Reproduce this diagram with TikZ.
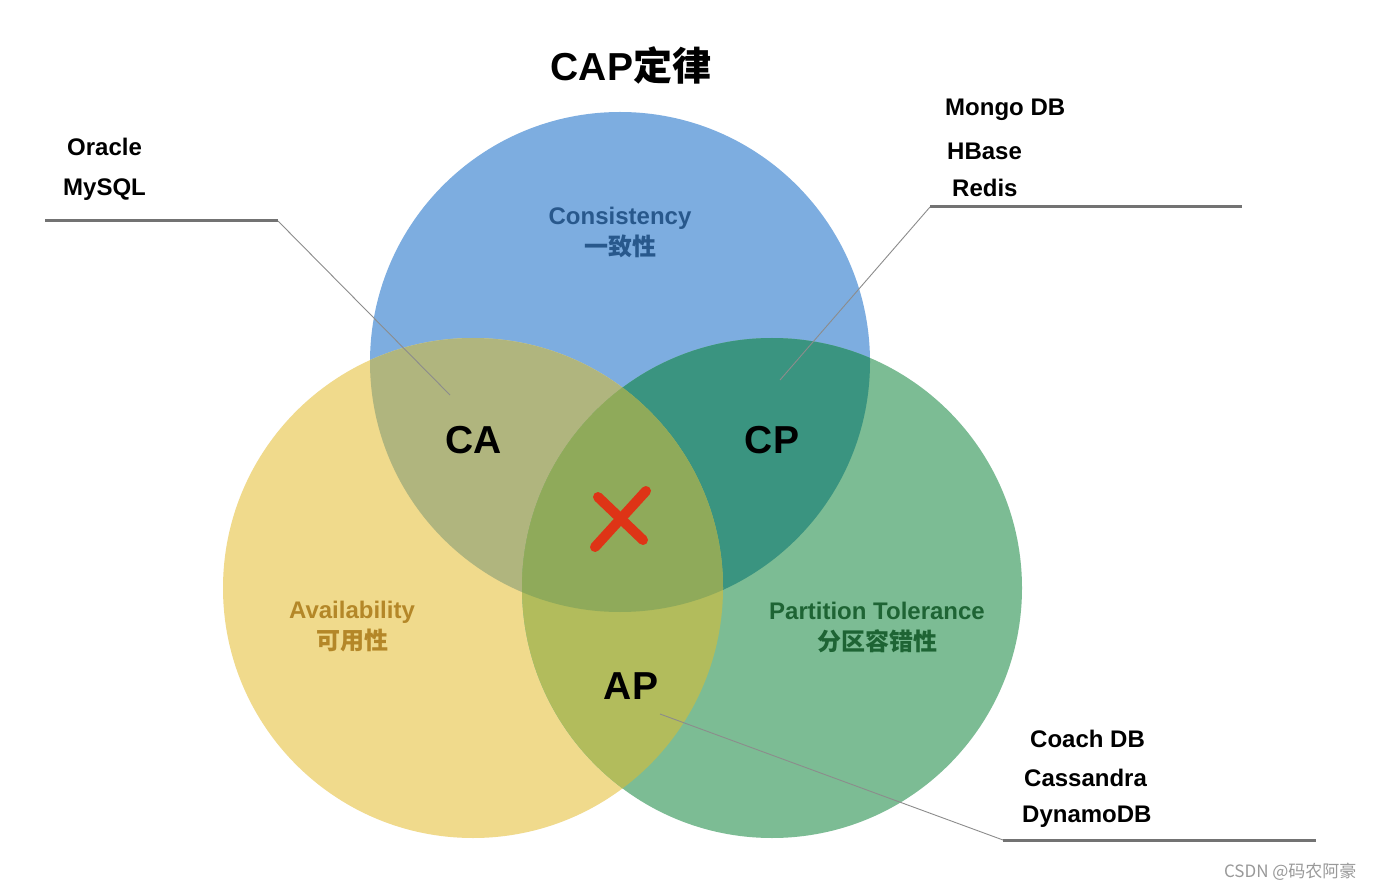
\documentclass[tikz,border=0pt]{standalone}
\usepackage{fontspec}
\setmainfont{Liberation Sans}
\newfontfamily\cjk{Noto Sans CJK SC}
\usepackage{xcolor}

\definecolor{consBlue}{RGB}{125,173,224}
\definecolor{availYellow}{RGB}{240,218,140}
\definecolor{partGreen}{RGB}{124,188,148}
\definecolor{caOlive}{RGB}{176,181,126}
\definecolor{cpTeal}{RGB}{58,148,128}
\definecolor{apLime}{RGB}{178,188,92}
\definecolor{capMid}{RGB}{143,170,90}
\definecolor{consText}{RGB}{40,88,140}
\definecolor{availText}{RGB}{180,135,40}
\definecolor{partText}{RGB}{30,100,52}
\definecolor{crossRed}{RGB}{222,52,22}

\tikzset{
  title/.style={font=\fontsize{39}{42}\selectfont\bfseries},
  dbname/.style={anchor=west, inner sep=0pt, font=\fontsize{24}{26}\selectfont\bfseries},
  setname/.style={font=\fontsize{39}{42}\selectfont\bfseries},
  propname/.style={align=center, font=\fontsize{24}{31}\selectfont\bfseries},
  underline/.style={draw=black!55, line width=3pt},
  leader/.style={draw=black!45, line width=0.9pt},
  cross/.style={draw=crossRed, line width=10pt, line cap=round},
  watermark/.style={text=black!40, font=\cjk\fontsize{17}{20}\selectfont},
}

\begin{document}
\begin{tikzpicture}[x=1pt,y=-1pt]
\useasboundingbox (0,0) rectangle (1374,890);
\fill[white] (0,0) rectangle (1374,890);

\coordinate (C) at (620,362);
\coordinate (A) at (473,588);
\coordinate (P) at (772,588);

% the three sets
\fill[consBlue] (C) circle (250pt);
\fill[availYellow] (A) circle (250pt);
\fill[partGreen] (P) circle (250pt);

% overlaps
\begin{scope}
\clip (C) circle (250pt);
\fill[caOlive] (A) circle (250pt);
\fill[cpTeal] (P) circle (250pt);
\end{scope}
\begin{scope}
\clip (A) circle (250pt);
\fill[apLime] (P) circle (250pt);
\end{scope}
\begin{scope}
\clip (C) circle (250pt);
\clip (A) circle (250pt);
\fill[capMid] (P) circle (250pt);
\end{scope}

\node[title] (title) at (631,65) {CAP{\cjk 定律}};

\node[propname, text=consText] (cons) at (620,232) {Consistency\\{\cjk 一致性}};
\node[propname, text=availText] (avail) at (352,627) {Availability\\{\cjk 可用性}};
\node[propname, text=partText] (part) at (877,627) {Partition Tolerance\\{\cjk 分区容错性}};

\node[setname] (ca) at (474,440) {CA};
\node[setname] (cp) at (772,440) {CP};
\node[setname] (ap) at (631,686) {AP};

\draw[cross] (595,547) -- (646,491);
\draw[cross] (598,497) -- (643,540);

% CA systems
\node[dbname] (oracle) at (67,147) {Oracle};
\node[dbname] (mysql) at (63,190) {MySQL};
\coordinate (caLeft) at (45,221);
\coordinate (caKnee) at (278,221);
\coordinate (caTip) at (450,395);
\draw[underline] (caLeft) -- (caKnee);
\draw[leader] (caKnee) -- (caTip);

% CP systems
\node[dbname] (mongo) at (945,110) {Mongo DB};
\node[dbname] (hbase) at (947,151) {HBase};
\node[dbname] (redis) at (952,188) {Redis};
\coordinate (cpKnee) at (930,207);
\coordinate (cpRight) at (1242,207);
\coordinate (cpTip) at (780,380);
\draw[underline] (cpKnee) -- (cpRight);
\draw[leader] (cpKnee) -- (cpTip);

% AP systems
\node[dbname] (coach) at (1030,739) {Coach DB};
\node[dbname] (cass) at (1024,778) {Cassandra};
\node[dbname] (dynamo) at (1022,817) {DynamoDB};
\coordinate (apKnee) at (1003,840);
\coordinate (apRight) at (1316,840);
\coordinate (apTip) at (660,714);
\draw[underline] (apKnee) -- (apRight);
\draw[leader] (apKnee) -- (apTip);

\node[watermark, anchor=east] (mark) at (1360,872) {CSDN @码农阿豪};
\end{tikzpicture}
\end{document}
